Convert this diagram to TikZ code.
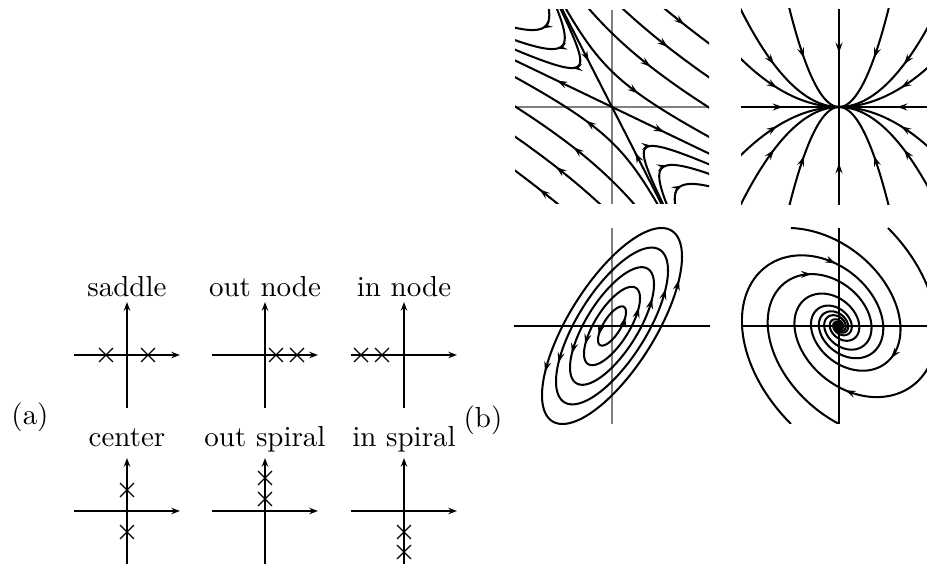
\documentclass[tikz,border=0pt]{standalone}
\usepackage{tikz}
\usetikzlibrary{arrows.meta, shapes.misc, decorations.markings}

\begin{document}
\begin{tikzpicture}[
  x=0.345pt, y=-0.345pt,
  axis/.style={line width=0.8pt, -{Stealth[length=3pt, width=2.2pt]}},
  cross/.style={cross out, draw, line width=0.4pt, minimum size=4.4pt, inner sep=0pt},
  title/.style={anchor=base, inner sep=0pt},
  tag/.style={anchor=base, inner sep=0pt},
  flow/.style={line width=0.7pt},
  flowtip/.style={decoration={markings, mark=at position 1 with {\arrow[line width=0.7pt]{Stealth[length=3.6pt, width=2.4pt, inset=1.3pt]}}}, decorate},
  grid axis/.style={line width=0.7pt, black!50},
  thin axis/.style={line width=0.45pt}
]
\useasboundingbox (0,0) rectangle (927,564);

% (a) eigenvalue sketches
\node[tag] (taga) at (30,425) {(a)};
\foreach \cx/\cy/\ty/\nm/\txt/\xs in {
  127/355/297/saddle/saddle/{-21/0,21/0},
  265/355/297/outnode/out node/{11/0,32/0},
  404/355/297/innode/in node/{-43/0,-22/0},
  127/511/447/center/center/{0/21,0/-21},
  265/511/447/outspiral/out spiral/{0/33,0/12},
  404/511/447/inspiral/in spiral/{0/-21,0/-41}} {
  \node[title] (\nm) at (\cx,\ty) {\txt};
  \begin{scope}[shift={(\cx,\cy)}, yscale=-1]
    \draw[axis] (-53,0) -- (53,0);
    \draw[axis] (0,-53) -- (0,53);
    \foreach \dx/\dy in \xs {\node[cross] at (\dx,\dy) {};}
  \end{scope}
}

% (b) phase portraits
\node[tag] (tagb) at (483,428) {(b)};

% saddle
\begin{scope}[shift={(612,107)}, yscale=-1]
  \clip (-97,-97) rectangle (97,97);
  \draw[grid axis] (-97,0) -- (97,0) (0,-97) -- (0,97);
  \draw[flow] (-102,200) -- (102,-200);
  \draw[flow] (-200,96) -- (200,-96);
  \path[flowtip] (-25.5,50) -- (-23.3,45.6);
  \path[flowtip] (25.5,-50) -- (23.3,-45.6);
  \path[flowtip] (-50,24) -- (-55,26.4);
  \path[flowtip] (47,-22.6) -- (52,-25);
  \foreach \p/\q/\k/\ta in {1/1/230/1.89, 1/1/690/2.18, 1/1/1230/2.37, 1/1/1910/2.51,
      -1/-1/230/1.89, -1/-1/690/2.18, -1/-1/1230/2.37, -1/-1/1910/2.51,
      -1/1/375/1.84, -1/1/245/1.76, -1/1/135/1.64,
      1/-1/375/1.84, 1/-1/245/1.76, 1/-1/135/1.64} {
    \pgfmathsetmacro\tlo{ln(\k/230)}
    \pgfmathsetmacro\tb{\ta-0.03}
    \draw[flow] plot[domain=\tlo:2.8, samples=120]
      ({(\p)*exp(2*\x)-0.51*(\q)*\k*exp(-\x)}, {-0.48*(\p)*exp(2*\x)+(\q)*\k*exp(-\x)});
    \path[flowtip] ({(\p)*exp(2*\tb)-0.51*(\q)*\k*exp(-\tb)}, {-0.48*(\p)*exp(2*\tb)+(\q)*\k*exp(-\tb)})
      -- ({(\p)*exp(2*\ta)-0.51*(\q)*\k*exp(-\ta)}, {-0.48*(\p)*exp(2*\ta)+(\q)*\k*exp(-\ta)});
  }
\end{scope}

% in node
\begin{scope}[shift={(839,107)}, yscale=-1]
  \clip (-98,-98) rectangle (98,98);
  \draw[flow] (-98,0) -- (98,0) (0,-98) -- (0,98);
  \path[flowtip] (-60,0) -- (-56,0);
  \path[flowtip] (62,0) -- (58,0);
  \path[flowtip] (0,58) -- (0,54);
  \path[flowtip] (0,-60) -- (0,-56);
  \foreach \k/\xa in {0.0101/65, 0.04/35, 0.005/62, -0.0101/65, -0.04/35, -0.005/62} {
    \draw[flow] plot[domain=-110:110, samples=111] (\x, {\k*\x*\x});
    \path[flowtip] ({-\xa-2}, {\k*(\xa+2)*(\xa+2)}) -- ({-\xa}, {\k*\xa*\xa});
    \path[flowtip] ({\xa+2}, {\k*(\xa+2)*(\xa+2)}) -- ({\xa}, {\k*\xa*\xa});
  }
\end{scope}

% center
\begin{scope}[shift={(612,326)}, yscale=-1]
  \draw[grid axis] (0,-98) -- (0,98);
  \draw[thin axis] (-98,0) -- (98,0);
  \foreach \s in {0.2,0.4,0.6,0.8,1} {
    \draw[flow] plot[domain=0:360, samples=120] ({\s*70*cos(\x)}, {\s*98*cos(\x-45)}) -- cycle;
    \path[flowtip] ({\s*70*cos(-22)}, {\s*98*cos(-67)}) -- ({\s*70*cos(-17)}, {\s*98*cos(-62)});
    \path[flowtip] ({\s*70*cos(158)}, {\s*98*cos(113)}) -- ({\s*70*cos(163)}, {\s*98*cos(118)});
  }
\end{scope}

% in spiral
\begin{scope}[shift={(839,326)}, yscale=-1]
  \clip (-98,-98) rectangle (98,98);
  \draw[thin axis] (-98,0) -- (98,0) (0,-98) -- (0,98);
  \foreach \xa/\ya/\xb/\yb/\ta in {0/-98/-102.4/29.85/2.6, -48/-98/-117.0/80.1/2.7,
      -48/98/87.8/20.3/2.4, 49/98/117.3/-81.1/2.65} {
    \pgfmathsetmacro\tb{\ta-0.05}
    \draw[flow] plot[domain=0:28, samples=560]
      ({exp(-0.25*\x)*(cos(deg(\x))*\xa+sin(deg(\x))*\xb)}, {exp(-0.25*\x)*(cos(deg(\x))*\ya+sin(deg(\x))*\yb)});
    \path[flowtip] ({exp(-0.25*\tb)*(cos(deg(\tb))*\xa+sin(deg(\tb))*\xb)}, {exp(-0.25*\tb)*(cos(deg(\tb))*\ya+sin(deg(\tb))*\yb)})
      -- ({exp(-0.25*\ta)*(cos(deg(\ta))*\xa+sin(deg(\ta))*\xb)}, {exp(-0.25*\ta)*(cos(deg(\ta))*\ya+sin(deg(\ta))*\yb)});
  }
\end{scope}

\end{tikzpicture}
\end{document}
